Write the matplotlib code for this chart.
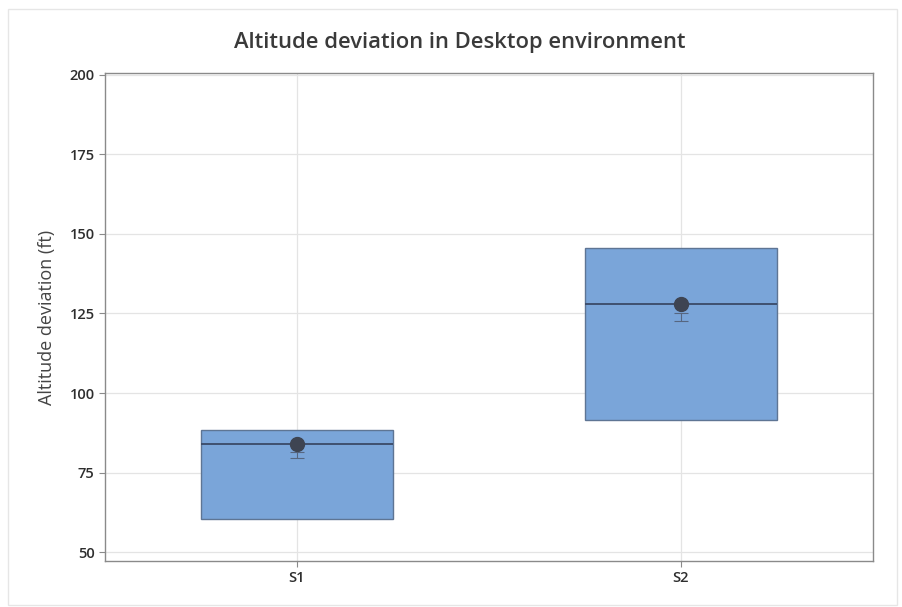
import matplotlib
matplotlib.use("Agg")
import matplotlib.pyplot as plt
from matplotlib.patches import Rectangle

plt.rcParams['font.family'] = ['Open Sans', 'DejaVu Sans']

groups = ["S1", "S2"]
q1 = [60.5, 91.5]
median = [84.0, 128.0]
q3 = [88.5, 145.5]
means = [84.0, 128.0]
ci_low = [79.5, 122.5]
ci_high = [81.5, 125.0]
yticks = [50, 75, 100, 125, 150, 175, 200]

fig = plt.figure(figsize=(9.02, 6.07), dpi=100)
fig.patches.append(Rectangle((0.009, 0.003), 0.985, 0.982, transform=fig.transFigure,
                             fill=False, edgecolor="#e6e6e6", linewidth=1.0))
ax = fig.add_axes([0.1164, 0.0758, 0.8514, 0.8040])

positions = [1, 2]
stats = []
for g, lo, md, hi in zip(groups, q1, median, q3):
    stats.append(dict(label=g, q1=lo, med=md, q3=hi, whislo=lo, whishi=hi, fliers=[]))

ax.bxp(stats, positions=positions, widths=0.5, patch_artist=True, showcaps=False,
       showfliers=False,
       boxprops=dict(facecolor="#7aa5d9", edgecolor="#5e7594", linewidth=1.0),
       medianprops=dict(color="#3a4a68", linewidth=1.3),
       whiskerprops=dict(linewidth=0), zorder=3)

ax.errorbar(positions, [(a + b) / 2 for a, b in zip(ci_low, ci_high)],
            yerr=[[(b - a) / 2 for a, b in zip(ci_low, ci_high)]] * 2,
            fmt="none", ecolor="#566680", elinewidth=0.8, capsize=5, capthick=0.8, zorder=4)
ax.plot(positions, means, "o", color="#3e4452", markersize=10, zorder=5)

ax.set_xlim(0.5, 2.5)
ax.set_ylim(47.2, 200.6)
ax.set_yticks(yticks)
ax.set_xticks(positions)
ax.set_xticklabels(groups)
ax.grid(True, color="#e4e4e4", linewidth=0.9, zorder=0)
ax.set_axisbelow(True)
for s in ax.spines.values():
    s.set_color("#8a8a8a")
    s.set_linewidth(1.0)
ax.tick_params(colors="#8a8a8a", labelcolor="#2e2e2e", labelsize=10.5, length=4)
for lbl in ax.get_xticklabels() + ax.get_yticklabels():
    lbl.set_fontweight("semibold")
ax.set_ylabel("Altitude deviation (ft)", fontsize=13, color="#444444", labelpad=10)
fig.suptitle("Altitude deviation in Desktop environment", fontsize=15.8, color="#3a3a3a",
             fontweight="semibold", x=0.51, y=0.948)

fig.savefig("out.png", dpi=100)
